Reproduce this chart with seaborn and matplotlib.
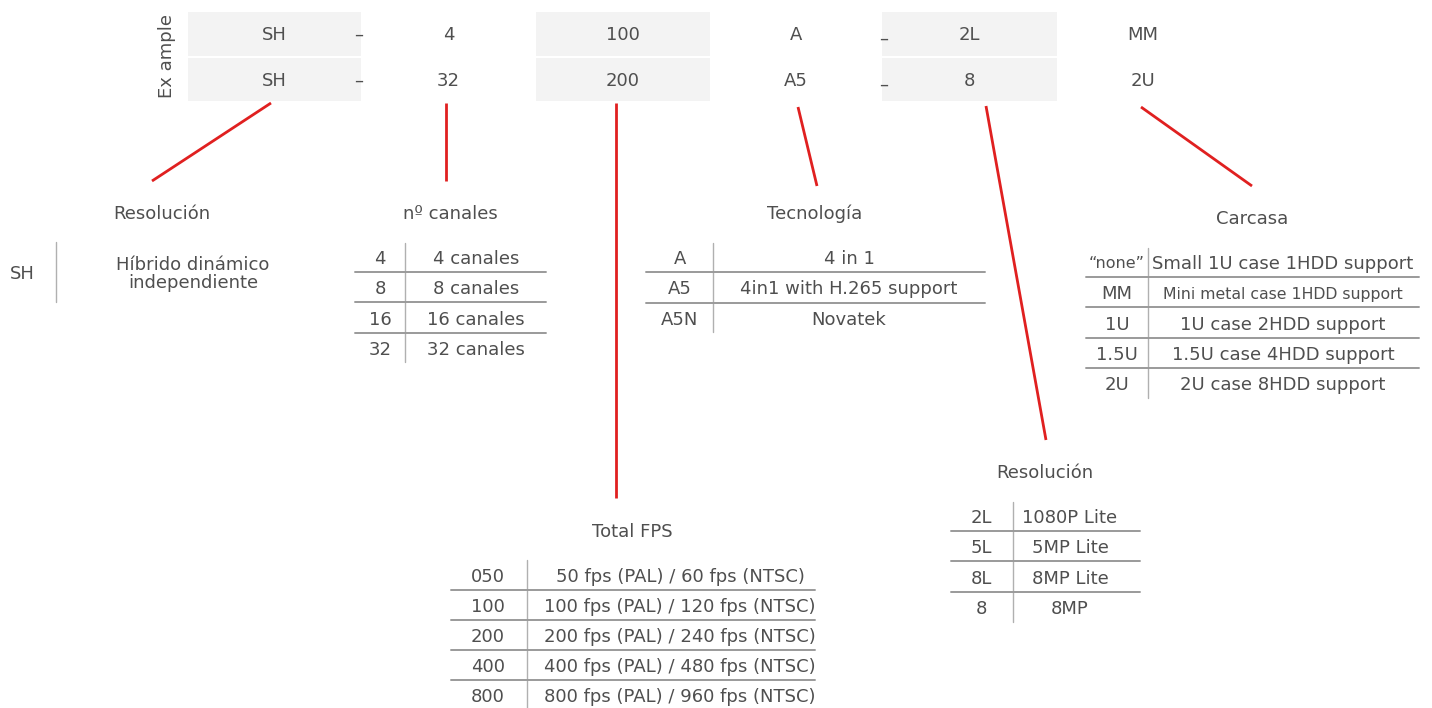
import matplotlib
matplotlib.use("Agg")
import matplotlib.pyplot as plt
import seaborn as sns

# --- data ---
header_row1 = ["SH", "4", "100", "A", "2L", "MM"]
header_row2 = ["SH", "32", "200", "A5", "8", "2U"]

res_keys = ["SH"]
res_descs = ["Híbrido dinámico\nindependiente"]

canales_keys = ["4", "8", "16", "32"]
canales_descs = ["4 canales", "8 canales", "16 canales", "32 canales"]

tec_keys = ["A", "A5", "A5N"]
tec_descs = ["4 in 1", "4in1 with H.265 support", "Novatek"]

carcasa_keys = ["\u201cnone\u201d", "MM", "1U", "1.5U", "2U"]
carcasa_descs = ["Small 1U case 1HDD support", "Mini metal case 1HDD support",
                 "1U case 2HDD support", "1.5U case 4HDD support", "2U case 8HDD support"]

fps_keys = ["050", "100", "200", "400", "800"]
fps_descs = ["50 fps (PAL) / 60 fps (NTSC)", "100 fps (PAL) / 120 fps (NTSC)",
             "200 fps (PAL) / 240 fps (NTSC)", "400 fps (PAL) / 480 fps (NTSC)",
             "800 fps (PAL) / 960 fps (NTSC)"]

res2_keys = ["2L", "5L", "8L", "8"]
res2_descs = ["1080P Lite", "5MP Lite", "8MP Lite", "8MP"]

# --- style ---
sns.set_theme(style="white")
plt.rcParams["font.family"] = ["DejaVu Sans"]
TXT = "#4f4f4f"
RED = "#e02020"
GRID = "#9a9a9a"
SHADE = "#f3f3f3"
FS = 13

fig = plt.figure(figsize=(14.32, 7.08), dpi=100)
ax = fig.add_axes([0, 0, 1, 1])
ax.set_xlim(0, 1432)
ax.set_ylim(708, 0)
ax.axis("off")

# header grid
col_edges = [188, 361, 536, 710, 882, 1057, 1230]
shaded = [True, False, True, False, True, False]
for i, (v1, v2) in enumerate(zip(header_row1, header_row2)):
    x0, x1 = col_edges[i], col_edges[i + 1]
    if shaded[i]:
        ax.add_patch(plt.Rectangle((x0, 12), x1 - x0, 44, color=SHADE, lw=0))
        ax.add_patch(plt.Rectangle((x0, 58), x1 - x0, 43, color=SHADE, lw=0))
    cx = (x0 + x1) / 2 if i < 5 else 1143
    ax.text(cx, 35, v1, ha="center", va="center", fontsize=FS, color=TXT)
    ax.text(cx, 81, v2, ha="center", va="center", fontsize=FS, color=TXT)
for y in (35, 81):
    ax.text(359, y, "–", ha="center", va="center", fontsize=FS, color=TXT)
    ax.text(884, y + 4, "–", ha="center", va="center", fontsize=FS, color=TXT)
ax.text(167, 56, "Ex ample", rotation=90, ha="center", va="center", fontsize=FS, color=TXT)

# red connectors
connectors = [((271, 103), (152, 181)), ((446, 103), (446, 181)),
              ((616, 103), (616, 498)), ((798, 107), (817, 186)),
              ((986, 106), (1046, 440)), ((1141, 107), (1252, 186))]
for (xa, ya), (xb, yb) in connectors:
    ax.plot([xa, xb], [ya, yb], color=RED, lw=2, solid_capstyle="butt")


def draw_table(title, title_xy, keys, descs, kx, vx, dx, x0, x1, y0, dy, vtop, vbot,
               fsizes=None):
    ax.text(title_xy[0], title_xy[1], title, ha="center", va="center", fontsize=FS, color=TXT)
    ax.plot([vx, vx], [vtop, vbot], color="#b0b0b0", lw=1)
    for i, (k, d) in enumerate(zip(keys, descs)):
        y = y0 + i * dy
        fs = fsizes[i] if fsizes else FS
        ax.text(kx, y, k, ha="center", va="center", fontsize=FS if k != "\u201cnone\u201d" else 11.5, color=TXT)
        ax.text(dx, y, d, ha="center", va="center", fontsize=fs, color=TXT, linespacing=1.0)
        if i < len(keys) - 1:
            ax.plot([x0, x1], [y + dy / 2 - 2, y + dy / 2 - 2], color=GRID, lw=1.4)


draw_table("Resolución", (162, 214), res_keys, res_descs, 22, 56, 193, 0, 0, 274, 30, 242, 302)
draw_table("nº canales", (450, 214), canales_keys, canales_descs, 380, 405, 476, 355, 546, 259, 30.3, 243, 362)
draw_table("Tecnología", (815, 214), tec_keys, tec_descs, 680, 713, 849, 646, 985, 259, 30.5, 243, 332)
draw_table("Carcasa", (1252, 219), carcasa_keys, carcasa_descs, 1117, 1148, 1283, 1086, 1419, 264, 30.25, 248, 398,
           fsizes=[FS, 11.3, FS, FS, FS])
draw_table("Total FPS", (632, 532), fps_keys, fps_descs, 488, 527, 680, 451, 815, 577, 30, 560, 708)
draw_table("Resolución", (1045, 473), res2_keys, res2_descs, 981, 1013, 1070, 951, 1140, 518, 30.3, 502, 622)

fig.savefig("out.png", dpi=100, facecolor="white")
